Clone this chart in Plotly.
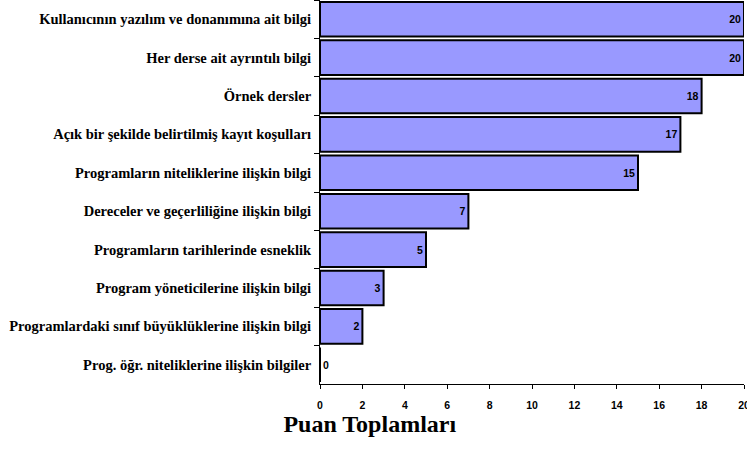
import plotly.graph_objects as go

categories = [
    "Kullanıcının yazılım ve donanımına ait bilgi",
    "Her derse ait ayrıntılı bilgi",
    "Örnek dersler",
    "Açık bir şekilde belirtilmiş kayıt koşulları",
    "Programların niteliklerine ilişkin bilgi",
    "Dereceler ve geçerliliğine ilişkin bilgi",
    "Programların tarihlerinde esneklik",
    "Program yöneticilerine ilişkin bilgi",
    "Programlardaki sınıf büyüklüklerine ilişkin bilgi",
    "Prog. öğr. niteliklerine ilişkin bilgiler",
]
values = [20, 20, 18, 17, 15, 7, 5, 3, 2, 0]
x_ticks = [0, 2, 4, 6, 8, 10, 12, 14, 16, 18, 20]

fig = go.Figure(go.Bar(
    x=values, y=categories, orientation="h",
    marker=dict(color="#9999FF", line=dict(color="black", width=2)),
    text=[str(v) for v in values],
    textposition=["inside" if v > 0 else "outside" for v in values],
    insidetextanchor="end",
    textangle=0,
    textfont=dict(family="Liberation Sans", size=10.5, color="black", weight="bold"),
    outsidetextfont=dict(family="Liberation Sans", size=10.5, color="black", weight="bold"),
    cliponaxis=False,
))

fig.update_layout(
    width=747, height=468,
    margin=dict(l=320, r=3, t=0, b=84),
    paper_bgcolor="white", plot_bgcolor="white",
    bargap=0.1,
    showlegend=False,
    uniformtext=dict(minsize=10.5, mode="show"),
    title=dict(text="Puan Toplamları", x=0.495, xanchor="center", y=0.095, yanchor="middle",
               font=dict(family="Liberation Serif", size=24, color="black", weight="bold")),
)
fig.update_xaxes(
    range=[0, 20], tickvals=x_ticks, showgrid=False, zeroline=False,
    showline=True, linecolor="black", linewidth=1,
    ticks="outside", ticklen=4, tickcolor="black", ticklabelstandoff=7,
    ticklabeloverflow="allow",
    tickfont=dict(family="Liberation Sans", size=10.5, color="black", weight="bold"),
    automargin=False,
)
fig.update_yaxes(
    autorange="reversed", showgrid=False, zeroline=False,
    showline=True, linecolor="black", linewidth=1,
    ticks="outside", ticklen=5, tickcolor="black", tickson="boundaries",
    ticklabelstandoff=5,
    tickfont=dict(family="Liberation Serif", size=14.5, color="black", weight="bold"),
    automargin=False,
)

fig.write_html("out.html", config={"displayModeBar": False},
               post_script="document.body.style.margin='0px';")
